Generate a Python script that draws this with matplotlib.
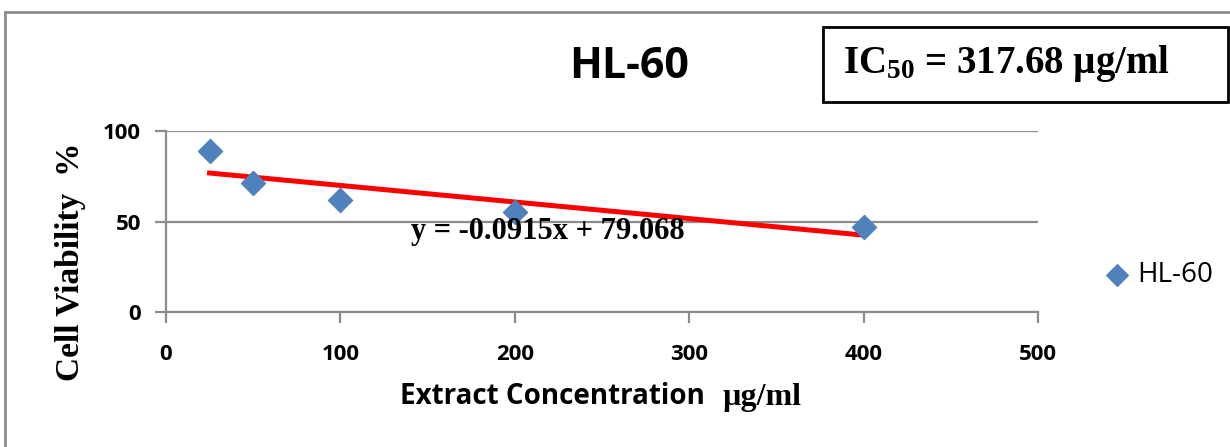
import numpy as np
import matplotlib.pyplot as plt
from matplotlib.patches import Rectangle

# data
conc = [25, 50, 100, 200, 400]
viability = [89, 71, 62, 55, 47]
slope, intercept = -0.0915, 79.068
x_ticks = [0, 100, 200, 300, 400, 500]
y_ticks = [0, 50, 100]
ic50_text = 'IC$_{50}$ = 317.68 µg/ml'

sans = ['Open Sans', 'DejaVu Sans']
serif = ['Liberation Serif', 'DejaVu Serif']
plt.rcParams['mathtext.fontset'] = 'custom'
plt.rcParams['mathtext.rm'] = 'Liberation Serif:bold'
plt.rcParams['mathtext.it'] = 'Liberation Serif:bold'
plt.rcParams['mathtext.bf'] = 'Liberation Serif:bold'

fig = plt.figure(figsize=(12.3, 4.47), dpi=100)
ax = fig.add_axes([166 / 1230, 1 - 312 / 447, (1038 - 166) / 1230, (312 - 131) / 447])

ax.scatter(conc, viability, marker='D', s=150, color='#4F81BD', zorder=3, label='HL-60')
fit_x = np.array([conc[0], conc[-1]])
ax.plot(fit_x, slope * fit_x + intercept, color='#FF0000', lw=3.6, zorder=2)

ax.set_xlim(0, 500)
ax.set_ylim(0, 100)
ax.set_xticks(x_ticks)
ax.set_yticks(y_ticks)
ax.grid(axis='y', color='#8c8c8c', lw=1.6)
ax.set_axisbelow(True)
for s in ['top', 'right']:
    ax.spines[s].set_visible(False)
for s in ['left', 'bottom']:
    ax.spines[s].set_color('#8c8c8c')
    ax.spines[s].set_linewidth(1.6)
ax.tick_params(axis='both', colors='#8c8c8c', width=1.6, length=8, labelcolor='black', pad=10)
ax.tick_params(axis='x', pad=15)
for lab in ax.get_xticklabels() + ax.get_yticklabels():
    lab.set_family(sans)
    lab.set_fontsize(16)
    lab.set_fontweight('bold')

ax.text(219, 44.5, 'y = -0.0915x + 79.068', family=serif, fontsize=22, fontweight='bold',
        ha='center', va='center')

fig.text(629 / 1230, 1 - 66 / 447, 'HL-60', family=sans, fontsize=31, fontweight='bold',
         ha='center', va='center')

fig.text(70 / 1230, 1 - 262 / 447, 'Cell Viability  %', family=serif, fontsize=24,
         fontweight='bold', rotation=90, ha='center', va='center')
fig.text(705 / 1230, 1 - 397 / 447, 'Extract Concentration', family=sans, fontsize=20,
         fontweight='bold', ha='right', va='center')
fig.text(722 / 1230, 1 - 397 / 447, 'µg/ml', family=serif, fontsize=23,
         fontweight='bold', ha='left', va='center')

# IC50 box
fig.patches.append(Rectangle((823 / 1230, 1 - 102 / 447), 405 / 1230, 75 / 447,
                             transform=fig.transFigure, fill=False, ec='black', lw=2))
fig.text(843 / 1230, 1 - 64 / 447, ic50_text, family=serif, fontsize=28, fontweight='bold',
         ha='left', va='center')

# outer chart border
fig.patches.append(Rectangle((5 / 1230, -0.1), 1.2, 1.1 - 12 / 447,
                             transform=fig.transFigure, fill=False, ec='#8c8c8c', lw=2))

leg = fig.legend(handles=ax.collections, labels=['HL-60'], loc='center left',
                 bbox_to_anchor=(1104 / 1230, 1 - 275 / 447), frameon=False,
                 prop={'family': sans, 'size': 20}, handlelength=0.9, handletextpad=0.3,
                 borderpad=0, borderaxespad=0, markerscale=0.9)

fig.savefig('out.png', dpi=100)
